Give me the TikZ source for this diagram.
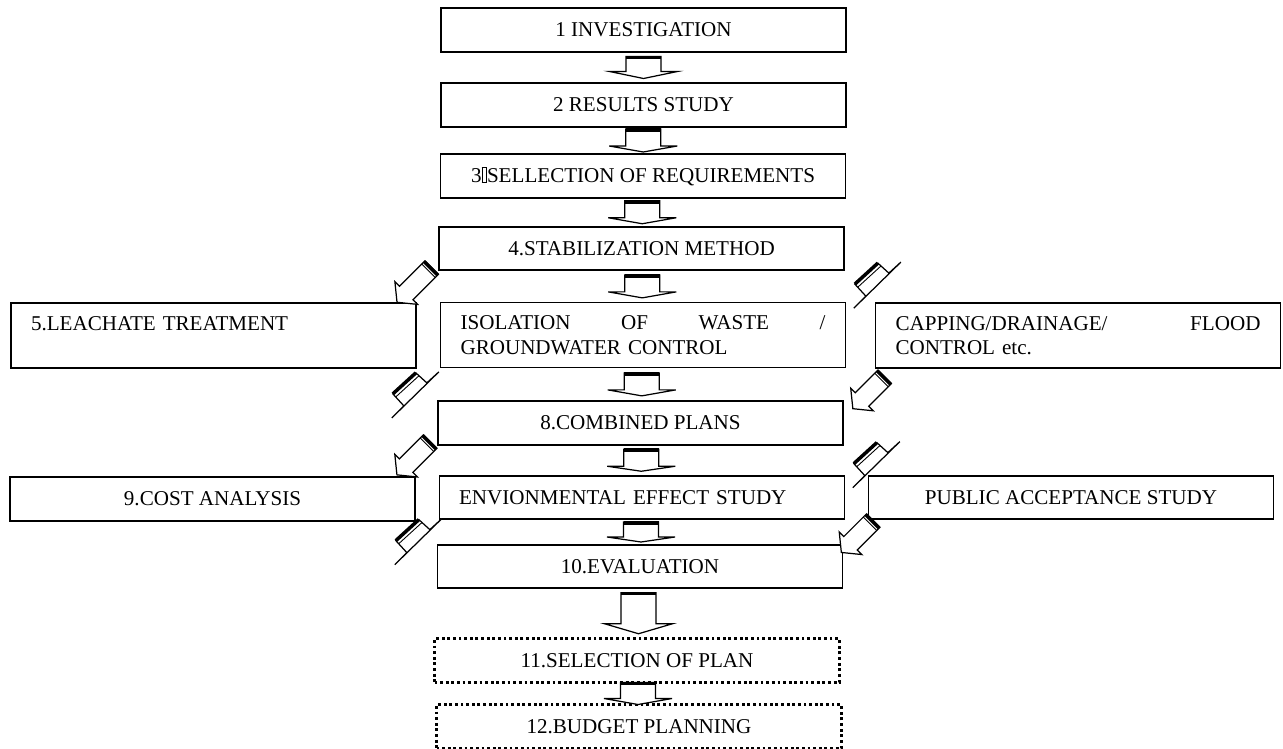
\documentclass[tikz,border=0pt]{standalone}
\usepackage{fontspec}
\setmainfont{Liberation Serif}
\usetikzlibrary{calc}
\newcommand{\tofubox}{{\fboxsep=0pt\fboxrule=0.3pt\fbox{\hbox to 2.5pt{\vrule height 8.5pt width 0pt\hfil}}}}
\tikzset{
  pics/downblk/.style 2 args={code={
    \draw[fill=white,line width=0.7pt] (-17.5,-#1/2) -- (17.5,-#1/2) -- (17.5,#1/2-#2) -- (34,#1/2-#2) -- (0,#1/2) -- (-34,#1/2-#2) -- (-17.5,#1/2-#2) -- cycle;
    \draw[line width=2pt] (-17.5,-#1/2+1) -- (17.5,-#1/2+1);
  }},
  pics/diagblk/.style={code={
    \draw[fill=white,line width=0.7pt] (0,-9.5) -- (#1-13,-9.5) -- (#1-13,-16) -- (#1,0) -- (#1-13,16) -- (#1-13,9.5) -- (0,9.5) -- cycle;
    \draw[line width=2pt] (1,-9.5) -- (1,9.5);
    \draw[line width=0.5pt] (4.5,-9.5) -- (4.5,9.5);
  }},
  pics/skewblk/.style={code={
    \draw[fill=white,line width=0.7pt] (0,0) -- (23,-21) -- (34,-11) -- (46,-22) -- (-1,24) -- (11,12) -- cycle;
    \draw[line width=2pt] (0,0) -- (23,-21);
    \draw[line width=0.5pt] (3,3) -- (26,-18);
  }}
}
\begin{document}
\begin{tikzpicture}[x=0.02cm,y=-0.02cm,
    every node/.style={font=\fontsize{12}{14}\selectfont},
    box/.style={draw,line width=1pt,minimum width=8.1cm,minimum height=0.87cm,inner sep=0pt},
    sidebox/.style={draw,line width=1pt,minimum height=1.3cm,text width=7.3cm,inner xsep=0.4cm,align=left},
    dotbox/.style={box,line width=1.6pt,dash pattern=on 1.6pt off 1.6pt}]
    \useasboundingbox (0,0) rectangle (1283,749);
    \node[box] at (643.5,30) (inv) {1 INVESTIGATION};
    \node[box] at (643.5,105) (res) {2 RESULTS STUDY};
    \node[box] at (643,176) (req) {3\tofubox SELLECTION OF REQUIREMENTS};
    \node[box] at (641.5,248.5) (stab) {4.STABILIZATION METHOD};
    \node[sidebox] at (213.5,335.5) (leach) {5.LEACHATE TREATMENT\\\mbox{}};
    \node[sidebox] at (643,335) (iso) {ISOLATION\hfill OF\hfill WASTE\hfill /\\GROUNDWATER CONTROL};
    \node[sidebox] at (1078,335.5) (cap) {CAPPING/DRAINAGE/\hfill FLOOD\\CONTROL etc.};
    \node[box] at (640.5,423) (comb) {8.COMBINED PLANS};
    \node[box] at (212.5,499) (cost) {9.COST ANALYSIS};
    \node[box,text width=7.32cm,inner xsep=0.36cm,align=left] at (642,497.5) (env) {ENVIONMENTAL EFFECT STUDY};
    \node[box] at (1071,497.5) (pub) {PUBLIC ACCEPTANCE STUDY};
    \node[box] at (640,566.5) (eval) {10.EVALUATION};
    \node[dotbox] at (637,660.5) (sel) {11.SELECTION OF PLAN};
    \node[dotbox] at (639,726.5) (bud) {12.BUDGET PLANNING};

    % main column
    \pic at ($(inv.south)!.5!(res.north)$) {downblk={22}{7}};
    \pic at ($(res.south)!.5!(req.north)$) {downblk={23}{6}};
    \pic at ($(req.south)!.5!(stab.north)$) {downblk={23}{6}};
    \pic at ($(stab.south)!.5!(iso.north)$) {downblk={23}{6}};
    \pic at ($(iso.south)!.5!(comb.north)$) {downblk={23}{6}};
    \pic at ($(comb.south)!.5!(env.north)$) {downblk={22}{5}};
    \pic at ($(env.south)!.5!(eval.north)$) {downblk={20}{5}};
    \pic at ($(eval.south)!.5!(sel.north)$) {downblk={41}{10}};
    \pic at ($(sel.south)!.5!(bud.north)$) {downblk={22}{6}};

    % side arrows
    \pic[rotate=225] at ($(stab.south west)+(-6.5,-3.5)$) {diagblk=49};
    \pic at ($(stab.south east)+(10,13)$) {skewblk};
    \pic at ($(leach.south east)+(-24,25)$) {skewblk};
    \pic[rotate=225] at ($(cap.south west)+(10,8)$) {diagblk=45};
    \pic[rotate=225] at ($(comb.south west)+(-7,-4)$) {diagblk=47};
    \pic at ($(comb.south east)+(10,18)$) {skewblk};
    \pic at ($(cost.south east)+(-20,19)$) {skewblk};
    \pic[rotate=225] at ($(pub.south west)+(5.5,0.5)$) {diagblk=45};
\end{tikzpicture}
\end{document}
